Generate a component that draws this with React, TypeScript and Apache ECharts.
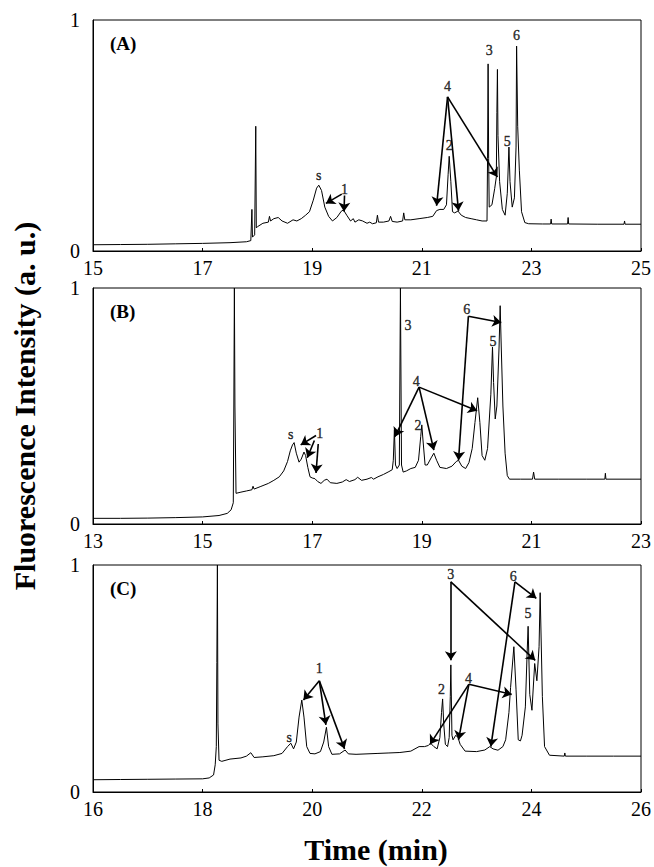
import React, { useEffect, useRef } from "react";
import * as echarts from "echarts";

// ---- Panel (A) trace: [time (min), intensity] ----
const traceA: [number, number][] = [
  [15.0, 0.027], [15.5, 0.028], [16.0, 0.029], [16.5, 0.031], [17.0, 0.033], [17.5, 0.036],
  [17.8, 0.04], [17.88, 0.045], [17.9, 0.18], [17.91, 0.06], [17.95, 0.07], [17.97, 0.54],
  [17.98, 0.1], [18.0, 0.105], [18.1, 0.12], [18.2, 0.125], [18.22, 0.15], [18.24, 0.13],
  [18.3, 0.14], [18.38, 0.145], [18.45, 0.13], [18.55, 0.12], [18.65, 0.135], [18.72, 0.13],
  [18.8, 0.14], [18.88, 0.155], [18.95, 0.17], [19.02, 0.22], [19.08, 0.272], [19.12, 0.285],
  [19.17, 0.262], [19.23, 0.19], [19.3, 0.15], [19.37, 0.13], [19.45, 0.145], [19.53, 0.172],
  [19.57, 0.178], [19.63, 0.155], [19.7, 0.13], [19.75, 0.14], [19.78, 0.125], [19.85, 0.135],
  [19.92, 0.13], [20.0, 0.12], [20.05, 0.125], [20.1, 0.118], [20.17, 0.122], [20.19, 0.155],
  [20.21, 0.125], [20.3, 0.125], [20.4, 0.13], [20.43, 0.15], [20.46, 0.128], [20.55, 0.125],
  [20.65, 0.13], [20.67, 0.165], [20.69, 0.135], [20.8, 0.135], [20.95, 0.14], [21.1, 0.145],
  [21.2, 0.15], [21.27, 0.175], [21.33, 0.18], [21.4, 0.18], [21.45, 0.2], [21.48, 0.33],
  [21.5, 0.41], [21.53, 0.3], [21.56, 0.17], [21.6, 0.165], [21.66, 0.173], [21.72, 0.155],
  [21.8, 0.145], [21.9, 0.14], [22.0, 0.135], [22.1, 0.13], [22.19, 0.13], [22.2, 0.4],
  [22.21, 0.81], [22.22, 0.4], [22.23, 0.19], [22.28, 0.2], [22.33, 0.27], [22.36, 0.32],
  [22.37, 0.6], [22.38, 0.786], [22.39, 0.5], [22.42, 0.3], [22.47, 0.18], [22.52, 0.155],
  [22.56, 0.25], [22.59, 0.45], [22.61, 0.3], [22.65, 0.19], [22.69, 0.23], [22.72, 0.45],
  [22.73, 0.887], [22.75, 0.54], [22.78, 0.35], [22.82, 0.17], [22.88, 0.123], [22.95, 0.118],
  [23.2, 0.117], [23.35, 0.117], [23.36, 0.138], [23.37, 0.117], [23.66, 0.117], [23.67, 0.145],
  [23.68, 0.117], [24.2, 0.116], [24.69, 0.116], [24.7, 0.13], [24.71, 0.116], [25.0, 0.116],
];

// ---- Panel (B) trace ----
const traceB: [number, number][] = [
  [13.0, 0.024], [13.5, 0.024], [14.0, 0.025], [14.5, 0.027], [15.0, 0.03], [15.3, 0.036],
  [15.45, 0.045], [15.52, 0.06], [15.56, 0.09], [15.57, 0.5], [15.58, 1.0], [15.59, 0.5],
  [15.61, 0.13], [15.7, 0.135], [15.8, 0.14], [15.9, 0.145], [15.92, 0.16], [15.94, 0.148],
  [16.05, 0.158], [16.2, 0.172], [16.3, 0.185], [16.4, 0.2], [16.48, 0.225], [16.55, 0.265],
  [16.6, 0.31], [16.64, 0.335], [16.67, 0.345], [16.71, 0.3], [16.76, 0.262], [16.8, 0.275],
  [16.85, 0.305], [16.88, 0.29], [16.92, 0.24], [16.96, 0.2], [17.0, 0.195], [17.05, 0.192],
  [17.1, 0.18], [17.16, 0.172], [17.22, 0.185], [17.27, 0.19], [17.33, 0.175], [17.45, 0.172],
  [17.55, 0.178], [17.62, 0.188], [17.68, 0.18], [17.78, 0.188], [17.83, 0.198], [17.9, 0.185],
  [18.0, 0.19], [18.08, 0.197], [18.12, 0.19], [18.2, 0.2], [18.3, 0.21], [18.4, 0.222],
  [18.46, 0.23], [18.48, 0.27], [18.5, 0.4], [18.52, 0.25], [18.55, 0.235], [18.59, 0.25],
  [18.61, 1.0], [18.63, 0.25], [18.66, 0.22], [18.72, 0.225], [18.8, 0.235], [18.88, 0.24],
  [18.94, 0.27], [18.98, 0.37], [19.0, 0.42], [19.02, 0.36], [19.06, 0.25], [19.1, 0.25],
  [19.17, 0.28], [19.22, 0.3], [19.27, 0.27], [19.33, 0.24], [19.45, 0.235], [19.55, 0.245],
  [19.63, 0.265], [19.67, 0.27], [19.73, 0.245], [19.8, 0.235], [19.86, 0.26], [19.92, 0.32],
  [19.97, 0.43], [20.02, 0.535], [20.06, 0.43], [20.1, 0.29], [20.15, 0.27], [20.2, 0.32],
  [20.26, 0.55], [20.29, 0.75], [20.31, 0.6], [20.34, 0.445], [20.37, 0.5], [20.41, 0.75],
  [20.43, 0.925], [20.45, 0.75], [20.48, 0.5], [20.52, 0.3], [20.56, 0.205], [20.6, 0.19],
  [20.8, 0.19], [21.02, 0.19], [21.04, 0.22], [21.06, 0.19], [21.5, 0.19], [22.0, 0.19],
  [22.34, 0.19], [22.35, 0.215], [22.36, 0.19], [23.0, 0.19],
];

// ---- Panel (C) trace ----
const traceC: [number, number][] = [
  [16.0, 0.054], [16.5, 0.055], [17.0, 0.056], [17.5, 0.057], [18.0, 0.058], [18.12, 0.062],
  [18.2, 0.075], [18.23, 0.12], [18.25, 0.2], [18.26, 0.57], [18.27, 1.0], [18.28, 0.3],
  [18.3, 0.14], [18.35, 0.135], [18.5, 0.145], [18.7, 0.15], [18.8, 0.158], [18.88, 0.173],
  [18.94, 0.152], [19.1, 0.155], [19.3, 0.16], [19.45, 0.17], [19.55, 0.2], [19.61, 0.215],
  [19.66, 0.19], [19.71, 0.22], [19.76, 0.33], [19.81, 0.405], [19.85, 0.33], [19.9, 0.2],
  [19.96, 0.17], [20.05, 0.168], [20.15, 0.178], [20.21, 0.22], [20.26, 0.285], [20.3, 0.2],
  [20.36, 0.166], [20.5, 0.168], [20.6, 0.185], [20.66, 0.168], [20.8, 0.166], [21.0, 0.168],
  [21.2, 0.17], [21.4, 0.172], [21.6, 0.174], [21.8, 0.18], [21.95, 0.2], [22.05, 0.2],
  [22.12, 0.205], [22.16, 0.215], [22.22, 0.2], [22.28, 0.19], [22.33, 0.24], [22.36, 0.35],
  [22.38, 0.41], [22.4, 0.3], [22.43, 0.21], [22.47, 0.2], [22.5, 0.24], [22.52, 0.42],
  [22.53, 0.56], [22.55, 0.25], [22.57, 0.23], [22.62, 0.25], [22.66, 0.24], [22.7, 0.21],
  [22.79, 0.18], [23.0, 0.178], [23.15, 0.185], [23.24, 0.2], [23.3, 0.19], [23.39, 0.184],
  [23.48, 0.2], [23.53, 0.23], [23.59, 0.35], [23.62, 0.46], [23.68, 0.64], [23.72, 0.45],
  [23.76, 0.23], [23.8, 0.225], [23.83, 0.25], [23.89, 0.375], [23.92, 0.6], [23.94, 0.73],
  [23.97, 0.43], [24.01, 0.36], [24.06, 0.566], [24.1, 0.49], [24.14, 0.64], [24.16, 0.878],
  [24.2, 0.42], [24.24, 0.2], [24.33, 0.162], [24.6, 0.158], [24.61, 0.172], [24.62, 0.158],
  [25.0, 0.158], [25.5, 0.158], [26.0, 0.158],
];

// ---- Peak labels: [time, intensity, text] ----
const labelsA: [number, number, string][] = [
  [19.12, 0.326, "s"], [19.59, 0.268, "1"], [21.47, 0.71, "4"], [21.5, 0.456, "2"],
  [22.23, 0.87, "3"], [22.56, 0.475, "5"], [22.73, 0.935, "6"],
];
const labelsB: [number, number, string][] = [
  [16.61, 0.38, "s"], [17.14, 0.382, "1"], [18.75, 0.84, "3"], [18.9, 0.605, "4"],
  [18.93, 0.417, "2"], [19.82, 0.91, "6"], [20.3, 0.775, "5"],
];
const labelsC: [number, number, string][] = [
  [19.58, 0.24, "s"], [20.13, 0.546, "1"], [22.53, 0.96, "3"], [22.36, 0.45, "2"],
  [22.85, 0.5, "4"], [23.67, 0.95, "6"], [23.94, 0.787, "5"],
];

// ---- Arrows: [fromTime, fromIntensity, toTime, toIntensity] ----
const arrowsA: [number, number, number, number][] = [
  [19.54, 0.246, 19.25, 0.206], [19.59, 0.24, 19.58, 0.171],
  [21.47, 0.667, 21.27, 0.196], [21.47, 0.667, 21.67, 0.174], [21.47, 0.667, 22.38, 0.32],
];
const arrowsB: [number, number, number, number][] = [
  [17.07, 0.375, 16.79, 0.335], [17.04, 0.354, 16.91, 0.281], [17.11, 0.339, 17.07, 0.216],
  [18.95, 0.58, 18.51, 0.37], [18.95, 0.58, 19.22, 0.313], [18.95, 0.58, 20.01, 0.48],
  [19.85, 0.88, 20.45, 0.854], [19.85, 0.88, 19.67, 0.27],
];
const arrowsC: [number, number, number, number][] = [
  [20.13, 0.49, 19.84, 0.405], [20.13, 0.49, 20.25, 0.296], [20.13, 0.49, 20.59, 0.19],
  [22.53, 0.926, 22.53, 0.58], [22.53, 0.926, 24.07, 0.58],
  [22.86, 0.475, 22.15, 0.21], [22.86, 0.475, 22.67, 0.23], [22.86, 0.475, 23.64, 0.43],
  [23.7, 0.926, 24.09, 0.853], [23.7, 0.926, 23.26, 0.2],
];

const xRanges: [number, number][] = [[15, 25], [13, 23], [16, 26]];
const panelTags = ["(A)", "(B)", "(C)"];

const FONT = '"Liberation Serif", "Times New Roman", serif';

export default function App() {
  const ref = useRef<HTMLDivElement>(null);
  useEffect(() => {
    if (!ref.current) return;
    const chart = echarts.init(ref.current, undefined, { renderer: "svg" });
    const grids = [
      { left: 93, top: 20, width: 551, height: 231 },
      { left: 93, top: 288, width: 551, height: 236 },
      { left: 93, top: 565, width: 551, height: 227 },
    ];
    const traces = [traceA, traceB, traceC];
    const labels = [labelsA, labelsB, labelsC];
    const arrows = [arrowsA, arrowsB, arrowsC];

    const series: any[] = [];
    traces.forEach((tr, i) => {
      series.push({
        type: "line",
        xAxisIndex: i,
        yAxisIndex: i,
        data: tr,
        showSymbol: false,
        symbol: "none",
        clip: true,
        lineStyle: { color: "#000", width: 1 },
        silent: true,
        markLine: {
          silent: true,
          symbol: ["none", "arrow"],
          symbolSize: 9,
          label: { show: false },
          lineStyle: { color: "#000", width: 1.6, type: "solid" },
          emphasis: { disabled: true },
          data: arrows[i].map((a) => [
            { coord: [a[0], a[1]] },
            { coord: [a[2], a[3]] },
          ]),
        },
      });
      series.push({
        type: "scatter",
        xAxisIndex: i,
        yAxisIndex: i,
        symbol: "circle",
        symbolSize: 1,
        itemStyle: { color: "rgba(0,0,0,0)" },
        silent: true,
        data: labels[i].map((l) => ({ value: [l[0], l[1]], name: l[2] })),
        label: {
          show: true,
          position: "inside",
          formatter: "{b}",
          color: "#000",
          textBorderWidth: 0.4,
          textBorderColor: "#000",
          fontSize: 14,
          fontFamily: FONT,
        },
      });
    });

    const option: any = {
      animation: false,
      backgroundColor: "#fff",
      grid: grids.map((g) => ({
        ...g,
        show: true,
        borderColor: "#000",
        borderWidth: 1,
        backgroundColor: "transparent",
      })),
      xAxis: xRanges.map((r, i) => ({
        type: "value",
        gridIndex: i,
        min: r[0],
        max: r[1],
        interval: 2,
        axisLine: { show: true, lineStyle: { color: "#000", width: 1 } },
        axisTick: { show: true, inside: true, length: 3, lineStyle: { color: "#000" } },
        axisLabel: { color: "#000", fontSize: 20, fontFamily: FONT, margin: 7 },
        splitLine: { show: false },
      })),
      yAxis: xRanges.map((_, i) => ({
        type: "value",
        gridIndex: i,
        min: 0,
        max: 1,
        interval: 1,
        axisLine: { show: true, lineStyle: { color: "#000", width: 1 } },
        axisTick: { show: false },
        axisLabel: { color: "#000", fontSize: 20, fontFamily: FONT, margin: 13 },
        splitLine: { show: false },
      })),
      series,
      graphic: [
        {
          type: "text",
          x: 24,
          y: 406,
          rotation: Math.PI / 2,
          style: {
            text: "Fluorescence Intensity (a. u.)",
            font: `bold 30px ${FONT}`,
            fill: "#000",
            textAlign: "center",
            textVerticalAlign: "middle",
          },
        },
        {
          type: "text",
          x: 376,
          y: 849,
          style: {
            text: "Time (min)",
            font: `bold 30px ${FONT}`,
            fill: "#000",
            textAlign: "center",
            textVerticalAlign: "middle",
          },
        },
        ...panelTags.map((t, i) => ({
          type: "text",
          x: 110,
          y: grids[i].top + 23,
          style: {
            text: t,
            font: `bold 19px ${FONT}`,
            fill: "#000",
            textAlign: "left",
            textVerticalAlign: "middle",
          },
        })),
      ],
    };
    chart.setOption(option);
    return () => chart.dispose();
  }, []);
  return (
    <div
      ref={ref}
      style={{ position: "fixed", left: 0, top: 0, width: 654, height: 867, background: "#fff" }}
    />
  );
}
